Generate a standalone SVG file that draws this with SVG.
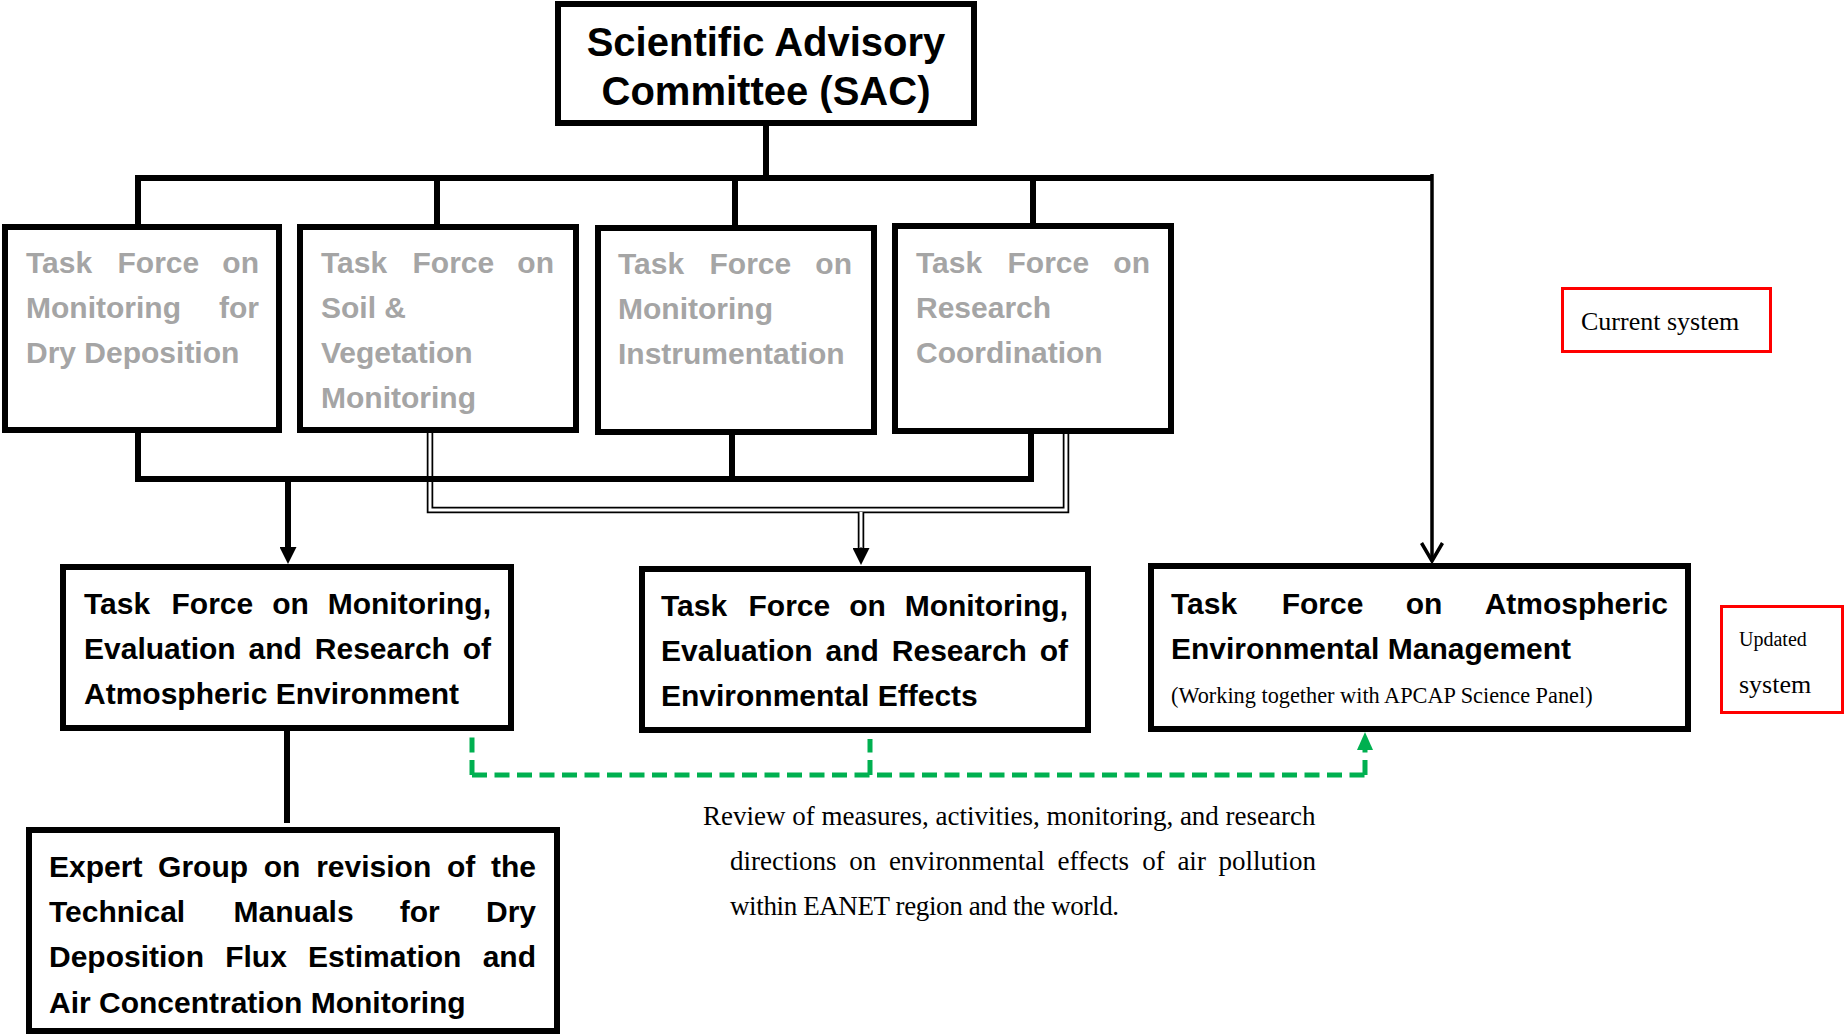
<svg xmlns="http://www.w3.org/2000/svg" width="1845" height="1035" viewBox="0 0 1845 1035">
<style>
.box{fill:#fff;stroke:#000;stroke-width:6}
.red{fill:#fff;stroke:#ff0000;stroke-width:3}
.sans{font-family:"Liberation Sans",Arial,sans-serif;font-weight:bold;font-size:30px}
.gray{fill:#a5a5a5}
.blk{fill:#000}
.sac{font-size:40px}
.serif{font-family:"Liberation Serif","Times New Roman",serif;fill:#000}
.ln{fill:none;stroke:#000;stroke-width:6;stroke-linejoin:miter}
.thin{fill:none;stroke:#000;stroke-width:3.5}
.dblo{fill:none;stroke:#000;stroke-width:6.5;stroke-linejoin:miter}
.dbli{fill:none;stroke:#fff;stroke-width:3;stroke-linejoin:miter}
.grn{fill:none;stroke:#00b050;stroke-width:5;stroke-dasharray:15 7.5}
</style>
<defs>
<marker id="ahb" markerUnits="userSpaceOnUse" markerWidth="17" markerHeight="17" viewBox="0 0 17 17" refX="0" refY="8.5" orient="auto"><path d="M0,0 L17,8.5 L0,17 Z" fill="#000"/></marker>
<marker id="ahg" markerUnits="userSpaceOnUse" markerWidth="18" markerHeight="16" viewBox="0 0 18 16" refX="0" refY="8" orient="auto"><path d="M0,0 L18,8 L0,16 Z" fill="#00b050"/></marker>
<marker id="ahv" markerUnits="userSpaceOnUse" markerWidth="22" markerHeight="24" viewBox="0 0 22 24" refX="19" refY="12" orient="auto"><path d="M1,1.5 L19,12 L1,22.5" fill="none" stroke="#000" stroke-width="3.5"/></marker>
</defs>
<rect width="1845" height="1035" fill="#fff"/>
<g id="connectors">
<path class="dblo" d="M430,431 V510 H1066 V431"/>
<path class="dblo" d="M861,510 V548"/>
<path class="dbli" d="M430,431 V510 H1066 V431"/>
<path class="dbli" d="M861,512 V548"/>
<path d="M861,547 V548" stroke="#000" stroke-width="1" marker-end="url(#ahb)"/>
<path class="ln" d="M766,124 V178"/>
<path class="ln" d="M138,227 V178 H1432"/>
<path class="ln" d="M437,178 V227"/>
<path class="ln" d="M735,178 V227"/>
<path class="ln" d="M1033,178 V227"/>
<path class="thin" d="M1432,174 V561" marker-end="url(#ahv)"/>
<path class="ln" d="M138,431 V479 H1031 V431"/>
<path class="ln" d="M732,431 V479"/>
<path class="ln" d="M288,479 V547" marker-end="url(#ahb)"/>
<path class="ln" d="M287,729 V823"/>
<path class="grn" d="M472,775 V737"/>
<path class="grn" d="M472,775 H1365"/>
<path class="grn" d="M870,775 V739"/>
<path class="grn" d="M1365,775 V750" marker-end="url(#ahg)"/>
</g>
<g id="sac">
<rect class="box" x="558" y="4" width="416" height="119"/>
<text class="sans blk sac" x="766" y="56" text-anchor="middle">Scientific Advisory</text>
<text class="sans blk sac" x="766" y="105" text-anchor="middle">Committee (SAC)</text>
</g>
<g id="tf-dry-deposition">
<rect class="box" x="5" y="227" width="274" height="203"/>
<text class="sans gray" y="273"><tspan x="26">Task</tspan><tspan x="117.5">Force</tspan><tspan x="259" text-anchor="end">on</tspan></text>
<text class="sans gray" y="318"><tspan x="26">Monitoring</tspan><tspan x="259" text-anchor="end">for</tspan></text>
<text class="sans gray" x="26" y="363">Dry Deposition</text>
</g>
<g id="tf-soil-vegetation">
<rect class="box" x="300" y="227" width="276" height="203"/>
<text class="sans gray" y="273"><tspan x="321">Task</tspan><tspan x="412.5">Force</tspan><tspan x="554" text-anchor="end">on</tspan></text>
<text class="sans gray" x="321" y="318">Soil &amp;</text>
<text class="sans gray" x="321" y="363">Vegetation</text>
<text class="sans gray" x="321" y="408">Monitoring</text>
</g>
<g id="tf-instrumentation">
<rect class="box" x="598" y="228" width="276" height="204"/>
<text class="sans gray" y="274"><tspan x="618">Task</tspan><tspan x="709.5">Force</tspan><tspan x="852" text-anchor="end">on</tspan></text>
<text class="sans gray" x="618" y="319">Monitoring</text>
<text class="sans gray" x="618" y="364">Instrumentation</text>
</g>
<g id="tf-research-coordination">
<rect class="box" x="895" y="226" width="276" height="205"/>
<text class="sans gray" y="273"><tspan x="916">Task</tspan><tspan x="1007.5">Force</tspan><tspan x="1150" text-anchor="end">on</tspan></text>
<text class="sans gray" x="916" y="318">Research</text>
<text class="sans gray" x="916" y="363">Coordination</text>
</g>
<g id="current-system">
<rect class="red" x="1562.5" y="288.5" width="208" height="63"/>
<text class="serif" x="1581" y="330" font-size="26">Current system</text>
</g>
<g id="tf-atmospheric-environment">
<rect class="box" x="63" y="567" width="448" height="161"/>
<text class="sans blk" y="614"><tspan x="84">Task</tspan><tspan x="171.5">Force</tspan><tspan x="272.3">on</tspan><tspan x="491" text-anchor="end">Monitoring,</tspan></text>
<text class="sans blk" y="659"><tspan x="84">Evaluation</tspan><tspan x="248.6">and</tspan><tspan x="314.8">Research</tspan><tspan x="491" text-anchor="end">of</tspan></text>
<text class="sans blk" x="84" y="704">Atmospheric Environment</text>
</g>
<g id="tf-environmental-effects">
<rect class="box" x="642" y="569" width="446" height="161"/>
<text class="sans blk" y="616"><tspan x="661">Task</tspan><tspan x="748.5">Force</tspan><tspan x="849.3">on</tspan><tspan x="1068" text-anchor="end">Monitoring,</tspan></text>
<text class="sans blk" y="661"><tspan x="661">Evaluation</tspan><tspan x="825.6">and</tspan><tspan x="891.8">Research</tspan><tspan x="1068" text-anchor="end">of</tspan></text>
<text class="sans blk" x="661" y="706">Environmental Effects</text>
</g>
<g id="tf-atmospheric-management">
<rect class="box" x="1151" y="566" width="537" height="163"/>
<text class="sans blk" y="614"><tspan x="1171">Task</tspan><tspan x="1281.7">Force</tspan><tspan x="1405.7">on</tspan><tspan x="1668" text-anchor="end">Atmospheric</tspan></text>
<text class="sans blk" x="1171" y="659">Environmental Management</text>
<text class="serif" x="1171" y="703" font-size="22.3">(Working together with APCAP Science Panel)</text>
</g>
<g id="updated-system">
<rect class="red" x="1721.5" y="606.5" width="121" height="106"/>
<text class="serif" x="1739" y="646" font-size="20">Updated</text>
<text class="serif" x="1739" y="693" font-size="26">system</text>
</g>
<g id="expert-group">
<rect class="box" x="29" y="830" width="528" height="201"/>
<text class="sans blk" y="877"><tspan x="49">Expert</tspan><tspan x="158.1">Group</tspan><tspan x="263.8">on</tspan><tspan x="316.2">revision</tspan><tspan x="447">of</tspan><tspan x="536" text-anchor="end">the</tspan></text>
<text class="sans blk" y="922"><tspan x="49">Technical</tspan><tspan x="233.6">Manuals</tspan><tspan x="399.8">for</tspan><tspan x="536" text-anchor="end">Dry</tspan></text>
<text class="sans blk" y="967"><tspan x="49">Deposition</tspan><tspan x="225.2">Flux</tspan><tspan x="308.1">Estimation</tspan><tspan x="536" text-anchor="end">and</tspan></text>
<text class="sans blk" x="49" y="1013">Air Concentration Monitoring</text>
</g>
<g id="review-note">
<text class="serif" x="703" y="825" font-size="27">Review of measures, activities, monitoring, and research</text>
<text class="serif" y="870" font-size="27"><tspan x="730">directions</tspan><tspan x="849.2">on</tspan><tspan x="888.9">environmental</tspan><tspan x="1057.6">effects</tspan><tspan x="1142.2">of</tspan><tspan x="1177.4">air</tspan><tspan x="1316" text-anchor="end">pollution</tspan></text>
<text class="serif" x="730" y="915" font-size="27" textLength="389" lengthAdjust="spacing">within EANET region and the world.</text>
</g>
</svg>
